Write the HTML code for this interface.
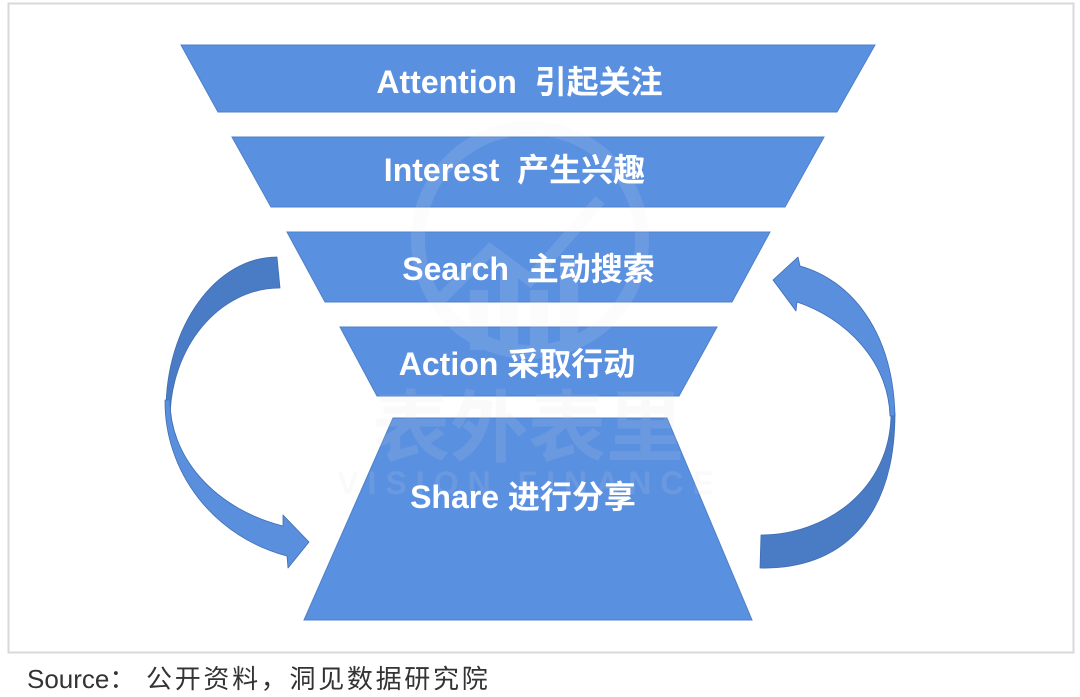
<!DOCTYPE html>
<html>
<head>
<meta charset="utf-8">
<style>
  html, body { margin: 0; padding: 0; background: #ffffff; }
  body { width: 1080px; height: 697px; overflow: hidden; }
  svg { display: block; }
  .lbl { font-family: "Liberation Sans", "Noto Sans CJK SC", sans-serif; font-weight: bold; font-size: 32px; fill: #ffffff; }
  .src { font-family: "Liberation Sans", "Noto Sans CJK SC", sans-serif; font-size: 26px; fill: #333333; }
  .wm { font-family: "Liberation Sans", "Noto Sans CJK SC", sans-serif; font-weight: bold; }
</style>
</head>
<body>
<svg width="1080" height="697" viewBox="0 0 1080 697" xmlns="http://www.w3.org/2000/svg">
  <rect x="0" y="0" width="1080" height="697" fill="#ffffff"/>
  <!-- frame -->
  <rect x="8.5" y="3.5" width="1065" height="649" fill="none" stroke="#d8d8d8" stroke-width="2"/>

  <!-- funnel bars -->
  <g fill="#5a90e0" stroke="#4f80c8" stroke-width="1">
    <polygon points="181,45 875,45 837,112 218,112"/>
    <polygon points="232,137 824,137 785,207 271,207"/>
    <polygon points="287,232 770,232 732,302 325,302"/>
    <polygon points="340,327 717,327 679,396 377,396"/>
    <polygon points="393,418 667,418 752,620 304,620"/>
  </g>

  <!-- watermark -->
  <g opacity="0.12">
    <circle cx="530" cy="240" r="112" fill="none" stroke="#e8e8e8" stroke-width="14"/>
    <polyline points="440,300 490,250 530,280 600,200" fill="none" stroke="#e8e8e8" stroke-width="12"/>
    <rect x="470" y="290" width="18" height="60" fill="#e8e8e8"/>
    <rect x="500" y="270" width="18" height="80" fill="#e8e8e8"/>
    <rect x="530" y="290" width="18" height="60" fill="#e8e8e8"/>
    <rect x="560" y="260" width="18" height="90" fill="#e8e8e8"/>
    <text class="wm" x="528" y="455" font-size="78" text-anchor="middle" fill="#dcdcdc">表外表里</text>
    <text class="wm" x="530" y="494" font-size="32" letter-spacing="9" text-anchor="middle" fill="#dcdcdc">VISION FINANCE</text>
  </g>

  <!-- labels -->
  <text class="lbl" x="519.5" y="93" text-anchor="middle" xml:space="preserve">Attention  引起关注</text>
  <text class="lbl" x="514.5" y="181" text-anchor="middle" xml:space="preserve">Interest  产生兴趣</text>
  <text class="lbl" x="528.5" y="280" text-anchor="middle" xml:space="preserve">Search  主动搜索</text>
  <text class="lbl" x="517" y="375" text-anchor="middle" xml:space="preserve">Action 采取行动</text>
  <text class="lbl" x="523" y="508" text-anchor="middle" xml:space="preserve">Share 进行分享</text>

  <!-- left curved arrow -->
  <g stroke="#3f6db3" stroke-width="0.8" stroke-linejoin="round">
    <path d="M277,257 C216,257 166,326 166,410 L170,420 C170,347 219,288 280,288 Z" fill="#4a7bc5"/>
    <path d="M165,400 A165,160 0 0 0 287,556 L288,568 L309,542 L283,515 L283,526 A160,131 0 0 1 170,400 Z" fill="#5a8fde"/>
  </g>

  <!-- right curved arrow -->
  <g stroke="#3f6db3" stroke-width="0.8" stroke-linejoin="round">
    <path d="M760,568 C840,570 895,520 895,413 L891,413 C891,490 825,535 761,535 Z" fill="#4a7bc5"/>
    <path d="M890,416 C888,360 845,318 797,302 L796,311 L773,280 L798,257 L800,266 C850,280 893,330 895,416 Z" fill="#5a8fde"/>
  </g>

  <!-- source -->
  <text class="src" x="27" y="688">Source<tspan font-family="'Noto Sans CJK SC', sans-serif">：</tspan><tspan x="146" letter-spacing="2.7">公开资料，洞见数据研究院</tspan></text>
</svg>
</body>
</html>
